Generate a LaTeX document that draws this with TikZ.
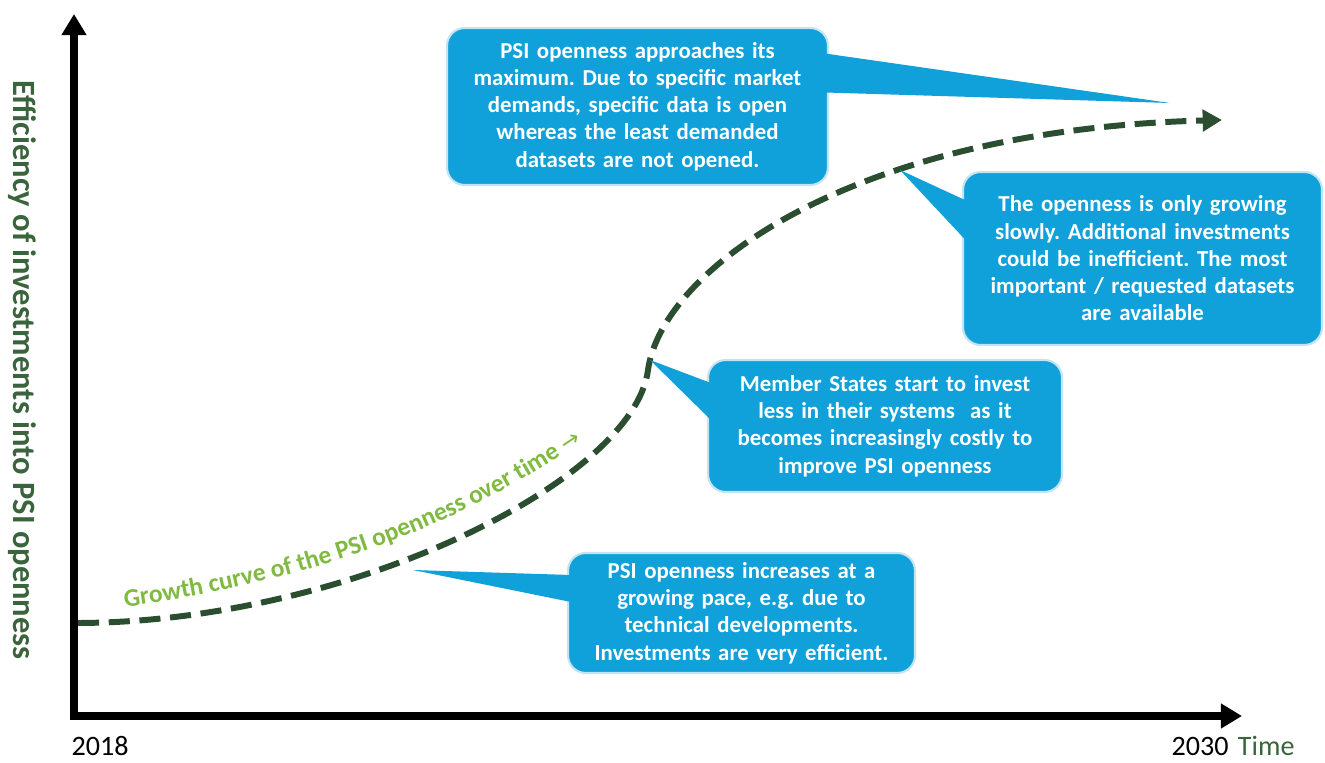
\documentclass[tikz,border=0pt]{standalone}
\usepackage{fontspec}
\setmainfont{Carlito}
\newfontfamily\arrowfont{DejaVu Sans}
\usetikzlibrary{arrows.meta,calc,positioning,decorations.text}
\frenchspacing

\definecolor{calloutblue}{RGB}{16,160,218}
\definecolor{calloutrim}{RGB}{196,228,243}
\definecolor{curvegreen}{RGB}{44,78,48}
\definecolor{labelgreen}{RGB}{128,186,64}
\definecolor{axisgreen}{RGB}{58,100,60}

\tikzset{
  callout/.style={fill=calloutblue, draw=calloutrim, line width=1.2pt,
    rounded corners=10pt, text=white, align=center, inner sep=0pt,
    font=\bfseries\fontsize{13}{15.5}\selectfont},
  wedge/.style={fill=calloutblue},
  yearlabel/.style={inner sep=0pt, font=\fontsize{16}{17}\selectfont},
  axisline/.style={line width=4.5pt,
    {Triangle[length=12pt,width=13.5pt]}-{Triangle[length=12pt,width=13.5pt]}},
  growth/.style={curvegreen, line width=3.4pt, dash pattern=on 12pt off 5.5pt,
    -{Triangle[length=11pt,width=12pt]}}
}

\begin{document}
\begin{tikzpicture}[x=0.02cm,y=-0.02cm]
 \useasboundingbox (0,0) rectangle (1325,763);
 % axes
 \coordinate (O) at (74,716);
 \coordinate (Ytop) at (74,14);
 \coordinate (Xend) at (1242,716);
 \draw[axisline] (Ytop) -- (O) -- (Xend);
 \node[yearlabel] (start) at (100,746) {2018};
 \node[yearlabel] (end) at (1200,746) {2030};
 \node[yearlabel, text=axisgreen, right=5pt of end] (time) {Time};
 \node[rotate=-90, text=axisgreen, font=\bfseries\fontsize{18.5}{21}\selectfont] (ylab) at (22,370)
   {Efficiency of investments into PSI openness};
 % growth curve
 \draw[growth] (78,623) .. controls (350,622) and (634,480) .. (648,370)
       .. controls (662,270) and (850,130) .. (1222,120);
 \path[decorate, decoration={text along path, text align=left,
   text={|\color{labelgreen}\bfseries\fontsize{14.5}{17}\selectfont|Growth curve of the PSI openness over time |\color{labelgreen}\arrowfont\fontsize{13}{15}\selectfont|→}}]
   (125,607) .. controls (330,578) and (470,520) .. (590,436);
 % points on the curve
 \coordinate (T1) at (1170,103);
 \coordinate (T2) at (900,170);
 \coordinate (T3) at (650,360);
 \coordinate (T4) at (413,570);
 % callouts
 \node[callout, text width=7.62cm, minimum height=3.14cm] (B1) at (637.5,106.5)
   {PSI openness approaches its\\ maximum. Due to specific market\\ demands, specific data is open\\
    whereas the least demanded\\ datasets are not opened.};
 \fill[wedge] (T1) -- ($(B1.east)+(-4,-53)$) -- ($(B1.east)+(-4,-14)$) -- cycle;
 \node[callout, text width=7.18cm, minimum height=3.46cm] (B2) at (1142.5,258.5)
   {The openness is only growing\\ slowly. Additional investments\\ could be inefficient. The most\\
    important / requested datasets\\ are available};
 \fill[wedge] (T2) -- ($(B2.west)+(4,-58)$) -- ($(B2.west)+(4,-18)$) -- cycle;
 \node[callout, text width=7.08cm, minimum height=2.64cm] (B3) at (885,426)
   {Member States start to invest\\ less in their systems \ as it\\ becomes increasingly costly to\\
    improve PSI openness};
 \fill[wedge] (T3) -- ($(B3.west)+(4,-43)$) -- ($(B3.west)+(4,-6)$) -- cycle;
 \node[callout, text width=6.94cm, minimum height=2.4cm] (B4) at (741.5,613)
   {PSI openness increases at a\\ growing pace, e.g. due to\\ technical developments.\\
    Investments are very efficient.};
 \fill[wedge] (T4) -- ($(B4.west)+(4,-38)$) -- ($(B4.west)+(4,-11)$) -- cycle;
\end{tikzpicture}
\end{document}
